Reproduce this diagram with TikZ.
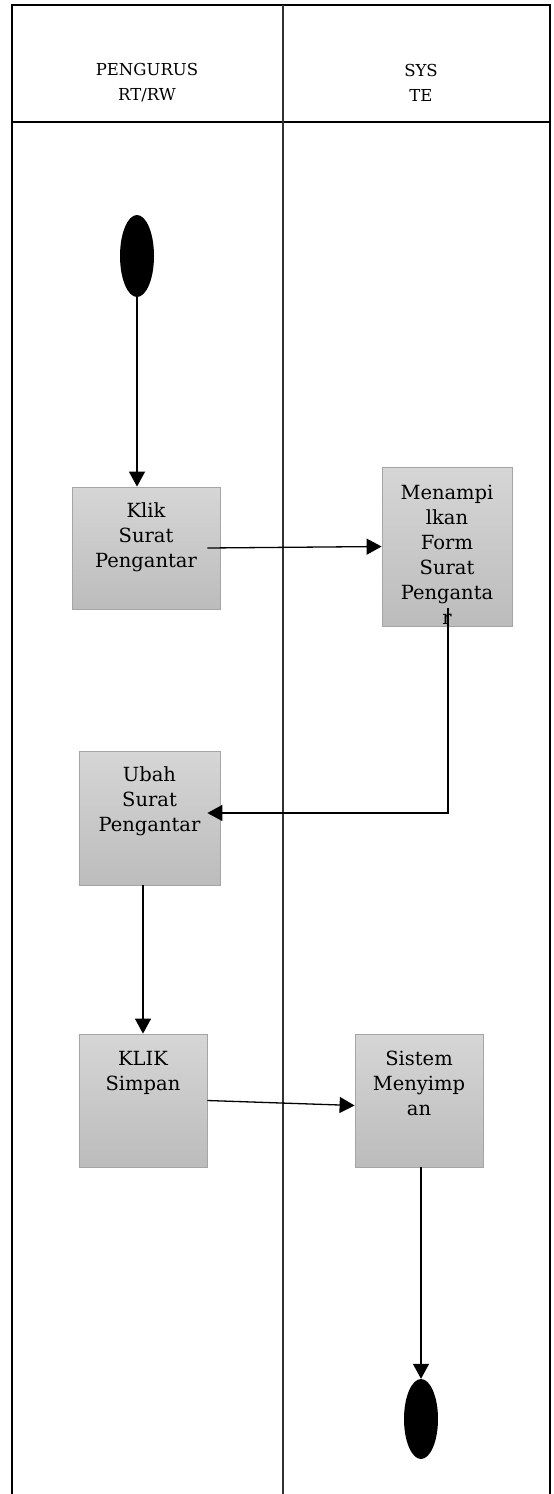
\documentclass[tikz,border=0pt]{standalone}
\usepackage{fontspec}
\setmainfont{DejaVu Serif}
\usetikzlibrary{arrows.meta,shapes.geometric}
\definecolor{boxtop}{RGB}{214,214,214}
\definecolor{boxbot}{RGB}{188,188,188}
\definecolor{boxline}{RGB}{165,165,165}
\tikzset{
  lanetext/.style={align=center, font=\fontsize{16.5}{25}\selectfont},
  actbox/.style={rectangle, draw=boxline, line width=0.8pt, top color=boxtop, bottom color=boxbot},
  actlabel/.style={anchor=north, align=center, font=\fontsize{19.5}{25}\selectfont},
  endpoint/.style={ellipse, fill=black, inner sep=0pt},
  flow/.style={line width=1.3pt, -{Triangle[length=15pt,width=16pt]}}
}

\begin{document}
\begin{tikzpicture}[x=1pt, y=-1pt]
			%%%%% START %%%%%
			\useasboundingbox (0, 0) rectangle (554, 1494);
			
			% lanes
			\draw[line width=2pt] (12, 1494) -- (12, 5) -- (550, 5) -- (550, 1494);
			\draw[line width=1.4pt] (12, 122) -- (550, 122);
			\draw[line width=1.5pt, color=black!80] (283, 5) -- (283, 1494);
			\node[lanetext] (pengurus) at (147, 83) {PENGURUS\\RT/RW};
			\node[lanetext] (system) at (421, 83) {SYS\\TE};
			
			% start / end
			\node[endpoint, minimum width=34pt, minimum height=82pt] (start) at (137, 256) {};
			\node[endpoint, minimum width=34pt, minimum height=80pt] (finish) at (421, 1419) {};
			
			% activities
			\node[actbox, minimum width=148pt, minimum height=122pt,
			  label={[actlabel, yshift=-13pt]north:Klik\\Surat\\Pengantar}] (klik) at (146, 548) {};
			\node[actbox, minimum width=130pt, minimum height=159pt,
			  label={[actlabel, yshift=-15pt]north:Menampi\\lkan\\Form\\Surat\\Penganta\\r}] (tampil) at (447, 546.5) {};
			\node[actbox, minimum width=141pt, minimum height=134pt,
			  label={[actlabel, yshift=-13pt]north:Ubah\\Surat\\Pengantar}] (ubah) at (149.5, 818) {};
			\node[actbox, minimum width=128pt, minimum height=133pt,
			  label={[actlabel, yshift=-14pt]north:KLIK\\Simpan}] (klikSimpan) at (143, 1100.5) {};
			\node[actbox, minimum width=128pt, minimum height=133pt,
			  label={[actlabel, yshift=-14pt]north:Sistem\\Menyimp\\an}] (simpan) at (419, 1100.5) {};
			
			% flows
			\draw[flow] (start.south) -- (start.south |- klik.north);
			\draw[flow] ([xshift=-13pt]klik.east) -- (tampil.west);
			\draw[flow] ([xshift=1pt, yshift=18pt]tampil.south) |- ([xshift=-13pt, yshift=5pt]ubah.east);
			\draw[flow] (klikSimpan.north |- ubah.south) -- (klikSimpan.north);
			\draw[flow] (klikSimpan.east) -- ([yshift=-5pt]simpan.west);
			\draw[flow] (finish.north |- simpan.south) -- (finish.north);
			
			%%%%% END %%%%%
		\end{tikzpicture}
\end{document}
